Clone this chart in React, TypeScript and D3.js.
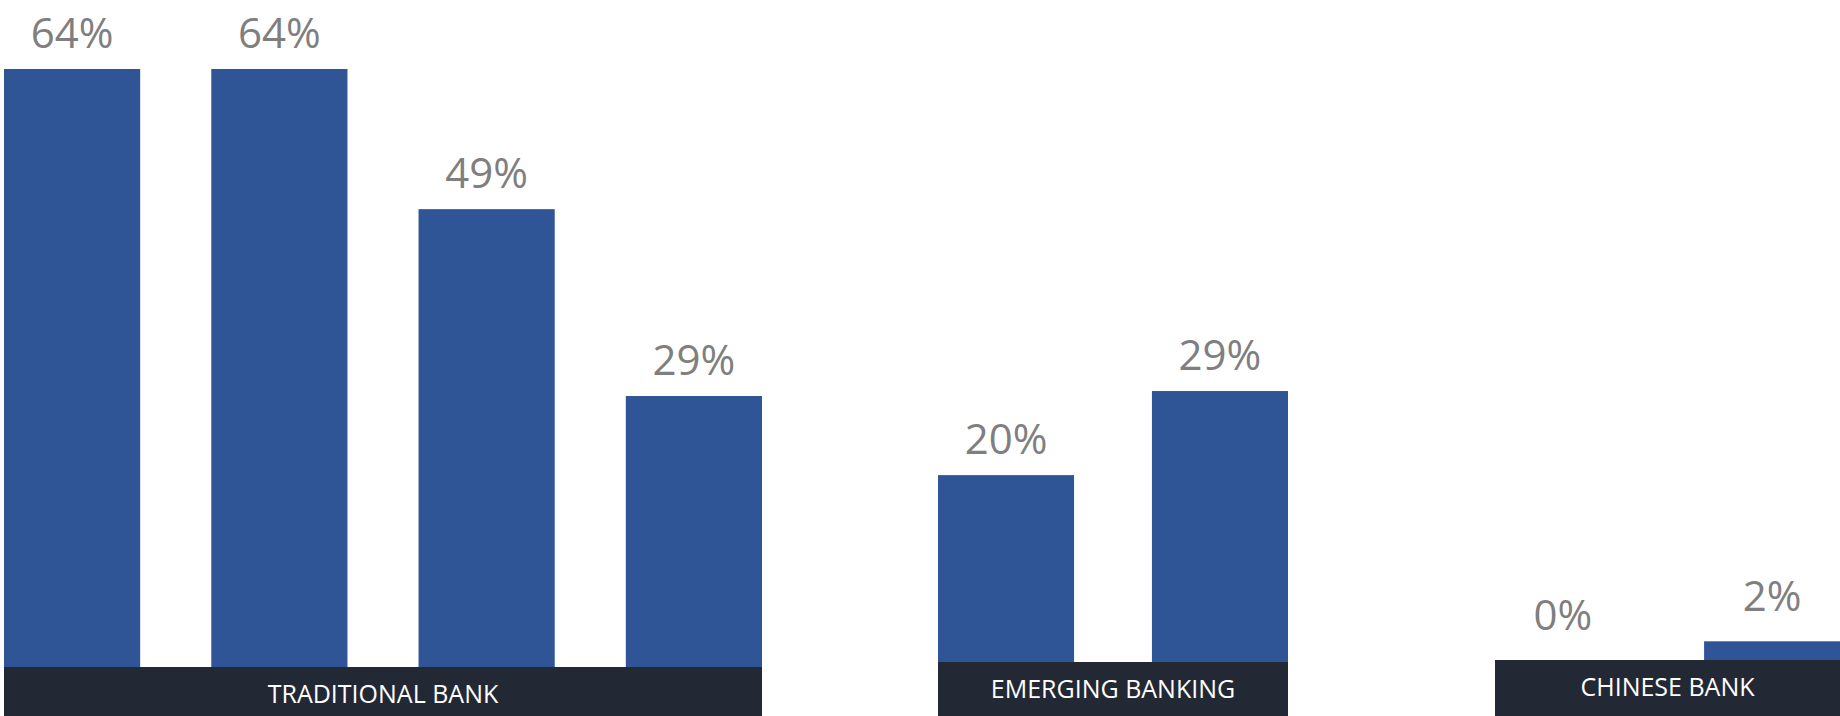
import { useEffect, useRef } from 'react'
import * as d3 from 'd3'

// groups and their bars (values in %)
const groups = ['TRADITIONAL BANK', 'EMERGING BANKING', 'CHINESE BANK']
const traditionalValues = [64, 64, 49, 29]
const emergingValues = [20, 29]
const chineseValues = [0, 2]

const WIDTH = 1840
const HEIGHT = 716
const BAR_COLOR = '#2F5597'
const BOX_COLOR = '#222834'
const LABEL_COLOR = '#7F7F7F'

// each group sits in its own slot with its own baseline, like the original
const LAYOUT = [
  { x0: 4, x1: 762, base: 667, pad: 0.343 },
  { x0: 938, x1: 1288, base: 662, pad: 0.364 },
  { x0: 1495, x1: 1840, base: 660, pad: 0.35 },
]

export default function App() {
  const svgRef = useRef<SVGSVGElement>(null)

  useEffect(() => {
    const svg = svgRef.current
    if (!svg) return
    d3.select(svg).selectAll('*').remove()
    const root = d3.select(svg)

    const hScale = d3.scaleLinear().domain([0, 64]).range([0, 598])
    const series = [traditionalValues, emergingValues, chineseValues]

    series.forEach((values, gi) => {
      const lay = LAYOUT[gi]
      const x = d3.scaleBand<number>()
        .domain(values.map((_, i) => i))
        .range([lay.x0, lay.x1])
        .paddingInner(lay.pad)
        .paddingOuter(0)

      const g = root.append('g')

      g.selectAll('rect.bar')
        .data(values)
        .join('rect')
        .attr('class', 'bar')
        .attr('x', (_, i) => x(i) ?? 0)
        .attr('y', d => lay.base - hScale(d))
        .attr('width', x.bandwidth())
        .attr('height', d => hScale(d) + 3)
        .attr('fill', BAR_COLOR)

      g.selectAll('text.val')
        .data(values)
        .join('text')
        .attr('class', 'val')
        .attr('x', (_, i) => (x(i) ?? 0) + x.bandwidth() / 2)
        .attr('y', d => lay.base - hScale(d) - (d < 5 ? 30 : 21))
        .attr('text-anchor', 'middle')
        .attr('fill', LABEL_COLOR)
        .style('font-family', '"Open Sans", sans-serif')
        .style('font-size', '42px')
        .text(d => `${d}%`)

      // category box under the bars
      g.append('rect')
        .attr('x', lay.x0)
        .attr('y', lay.base)
        .attr('width', lay.x1 - lay.x0)
        .attr('height', HEIGHT - lay.base)
        .attr('fill', BOX_COLOR)

      g.append('text')
        .attr('x', (lay.x0 + lay.x1) / 2)
        .attr('y', lay.base + 36)
        .attr('text-anchor', 'middle')
        .attr('fill', '#FFFFFF')
        .style('font-family', '"Open Sans", sans-serif')
        .style('font-size', '25px')
        .text(groups[gi])
    })
  }, [])

  return (
    <svg
      ref={svgRef}
      width={WIDTH}
      height={HEIGHT}
      style={{ position: 'absolute', left: 0, top: 0, background: '#FFFFFF' }}
    />
  )
}
